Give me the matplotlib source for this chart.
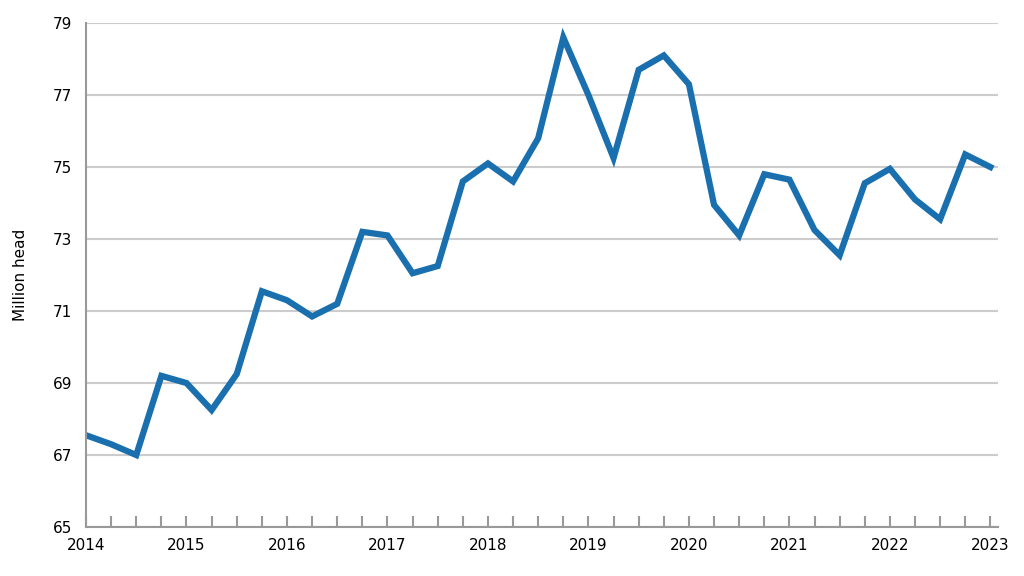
import matplotlib.pyplot as plt
import numpy as np

# quarterly values, 2014 Q1 .. 2023 Q1
values = [67.55, 67.3, 67.0, 69.2, 69.0, 68.25, 69.25, 71.55, 71.3, 70.85,
          71.2, 73.2, 73.1, 72.05, 72.25, 74.6, 75.1, 74.6, 75.8, 78.6,
          77.0, 75.25, 77.7, 78.1, 77.3, 73.95, 73.1, 74.8, 74.65, 73.25,
          72.55, 74.55, 74.95, 74.1, 73.55, 75.35, 75.0]
years = list(range(2014, 2024))
yticks = [65, 67, 69, 71, 73, 75, 77, 79]

x = 2014 + np.arange(len(values)) * 0.25

fig, ax = plt.subplots(figsize=(10.24, 5.76), dpi=100)
fig.subplots_adjust(left=0.084, right=0.975, top=0.96, bottom=0.085)

ax.plot(x, values, color='#1a6fae', linewidth=4.5, solid_joinstyle='miter')

ax.set_xlim(2014, 2023.08)
ax.set_ylim(65, 79)
ax.set_yticks(yticks)
ax.set_xticks(years)
ax.set_xticks(x, minor=True)
ax.grid(axis='y', color='#cccccc', linewidth=1.5)
ax.set_axisbelow(True)
for s in ['top', 'right']:
    ax.spines[s].set_visible(False)
for s in ['left', 'bottom']:
    ax.spines[s].set_color('#999999')
    ax.spines[s].set_linewidth(1.5)
ax.tick_params(axis='y', length=0, labelsize=11, pad=10)
ax.tick_params(axis='x', which='both', direction='in', length=8, color='#999999',
               labelsize=11, width=1.5, pad=8)
ax.set_ylabel('Million head', fontsize=11, labelpad=18)

fig.savefig('out.png')
